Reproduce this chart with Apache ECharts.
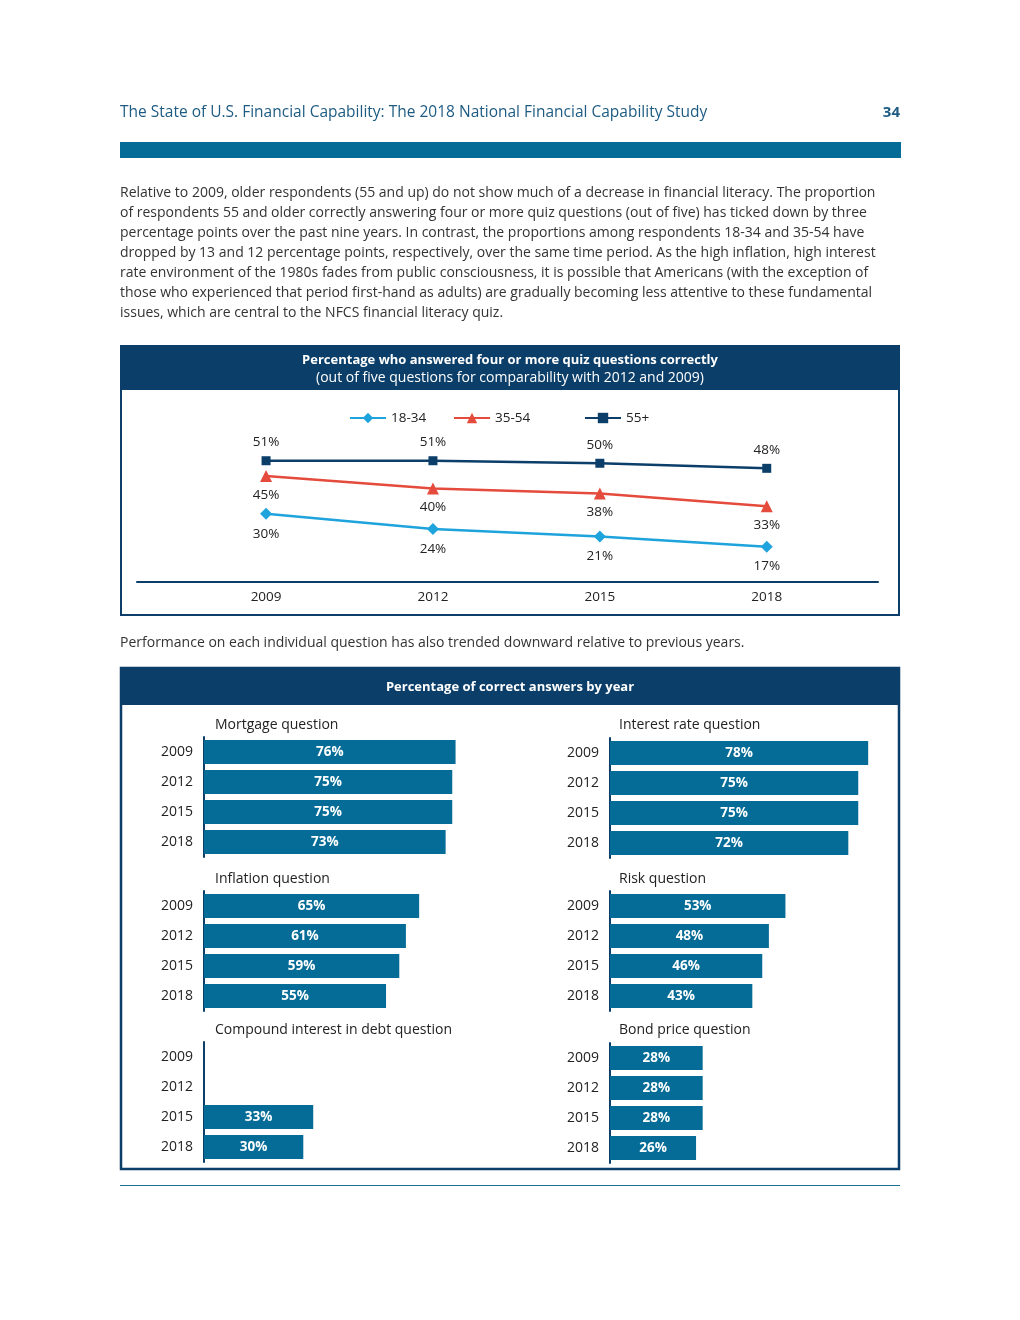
<!DOCTYPE html>
<html>
<head>
<meta charset="utf-8">
<script src="https://cdn.jsdelivr.net/npm/echarts@6/dist/echarts.min.js"></script>
<style>
html,body{margin:0;padding:0;background:#fff;}
#chart{width:1020px;height:1320px;}
</style>
</head>
<body>
<div id="chart"></div>
<script>
// ---------- data ----------
const years = ['2009', '2012', '2015', '2018'];
const yearNums = [2009, 2012, 2015, 2018];
const ages18to34 = [30, 24, 21, 17];
const ages35to54 = [45, 40, 38, 33];
const ages55plus = [51, 51, 50, 48];
const seriesNames = ['18-34', '35-54', '55+'];

const mortgageQ = [76, 75, 75, 73];
const interestRateQ = [78, 75, 75, 72];
const inflationQ = [65, 61, 59, 55];
const riskQ = [53, 48, 46, 43];
const compoundQ = [null, null, 33, 30];
const bondQ = [28, 28, 28, 26];
const panelTitles = ['Mortgage question', 'Interest rate question', 'Inflation question', 'Risk question', 'Compound interest in debt question', 'Bond price question'];

const headerTitle = 'The State of U.S. Financial Capability: The 2018 National Financial Capability Study';
const pageNumber = '34';
const paragraphLines = [
  'Relative to 2009, older respondents (55 and up) do not show much of a decrease in financial literacy. The proportion',
  'of respondents 55 and older correctly answering four or more quiz questions (out of five) has ticked down by three',
  'percentage points over the past nine years. In contrast, the proportions among respondents 18-34 and 35-54 have',
  'dropped by 13 and 12 percentage points, respectively, over the same time period. As the high inflation, high interest',
  'rate environment of the 1980s fades from public consciousness, it is possible that Americans (with the exception of',
  'those who experienced that period first-hand as adults) are gradually becoming less attentive to these fundamental',
  'issues, which are central to the NFCS financial literacy quiz.'
];
const chart1Title = 'Percentage who answered four or more quiz questions correctly';
const chart1Subtitle = '(out of five questions for comparability with 2012 and 2009)';
const middleSentence = 'Performance on each individual question has also trended downward relative to previous years.';
const chart2Title = 'Percentage of correct answers by year';

// ---------- styles ----------
const FONT = '"Open Sans", "Noto Sans", sans-serif';
const NAVY = '#0b3e69';
const TEAL = '#046c96';
const BLUE = '#1fa3dc';
const RED = '#e54b3c';
const TEXT = '#222';

const chart = echarts.init(document.getElementById('chart'), null, {renderer: 'canvas'});

function txt(x, y, text, opts) {
  opts = opts || {};
  return {
    type: 'text', x: x, y: y + 1.5, silent: true,
    style: Object.assign({
      text: text, fill: TEXT,
      font: (opts.weight || 'normal') + ' ' + (opts.size || 13) + 'px ' + FONT,
      align: opts.align || 'left', verticalAlign: 'middle'
    }, opts.style || {})
  };
}

const graphics = [];
graphics.push(txt(120, 111, headerTitle, {size: 15.5, style: {fill: '#1d5b82'}}));
graphics.push(txt(900, 111, pageNumber, {size: 15, weight: 'bold', align: 'right', style: {fill: '#1d5b82'}}));
graphics.push({type: 'rect', shape: {x: 120, y: 142, width: 781, height: 16}, style: {fill: TEAL}, silent: true});
paragraphLines.forEach((l, i) => graphics.push(txt(120, 192 + i * 20, l, {size: 14, style: {fill: '#333'}})));
// box 1
graphics.push({type: 'rect', shape: {x: 121, y: 346, width: 778, height: 269}, style: {fill: 'none', stroke: NAVY, lineWidth: 2}, silent: true});
graphics.push({type: 'rect', shape: {x: 120, y: 345, width: 780, height: 45}, style: {fill: NAVY}, silent: true});
graphics.push(txt(510, 359, chart1Title, {size: 13, weight: 'bold', align: 'center', style: {fill: '#fff'}}));
graphics.push(txt(510, 377, chart1Subtitle, {size: 14, align: 'center', style: {fill: '#fff'}}));
graphics.push(txt(120, 642, middleSentence, {size: 14, style: {fill: '#333'}}));
// box 2
graphics.push({type: 'rect', shape: {x: 121, y: 668, width: 778, height: 501}, style: {fill: 'none', stroke: NAVY, lineWidth: 2.5}, silent: true});
graphics.push({type: 'rect', shape: {x: 120, y: 667, width: 780, height: 38}, style: {fill: NAVY}, silent: true});
graphics.push(txt(510, 686, chart2Title, {size: 13, weight: 'bold', align: 'center', style: {fill: '#fff'}}));
graphics.push({type: 'rect', shape: {x: 120, y: 1185, width: 780, height: 1}, style: {fill: '#1f6f90'}, silent: true});

// bar panel layout
const panels = [
  {data: mortgageQ, left: 204, top: 737, tx: 215, ty: 724, lift: 0},
  {data: interestRateQ, left: 610, top: 738, tx: 619, ty: 724, lift: 0},
  {data: inflationQ, left: 204, top: 891, tx: 215, ty: 878, lift: 8},
  {data: riskQ, left: 610, top: 891, tx: 619, ty: 878, lift: 8},
  {data: compoundQ, left: 204, top: 1042, tx: 215, ty: 1029, lift: 0},
  {data: bondQ, left: 610, top: 1043, tx: 619, ty: 1029, lift: 0}
];
panels.forEach((p, i) => graphics.push(txt(p.tx, p.ty, panelTitles[i], {size: 14})));

const grids = [{left: 137, width: 741, top: 438, height: 144}];
const xAxes = [{
  gridIndex: 0, type: 'value', min: 2006.68, max: 2020,
  axisLine: {show: true, lineStyle: {color: NAVY, width: 2}},
  axisTick: {show: false}, splitLine: {show: false},
  axisLabel: {customValues: yearNums, formatter: v => String(v), color: TEXT, fontSize: 13.5, fontFamily: FONT, margin: 8}
}];
const yAxes = [{gridIndex: 0, type: 'value', min: 3, max: 60, show: false}];

const lineSeries = [
  {name: seriesNames[0], values: ages18to34, color: BLUE, symbol: 'diamond', size: 12, pos: 'bottom', dist: 7},
  {name: seriesNames[1], values: ages35to54, color: RED, symbol: 'triangle', size: 12, pos: 'bottom', dist: 6},
  {name: seriesNames[2], values: ages55plus, color: NAVY, symbol: 'rect', size: 9, pos: 'top', dist: 7}
];
const series = lineSeries.map(s => ({
  type: 'line', name: s.name, xAxisIndex: 0, yAxisIndex: 0,
  data: yearNums.map((y, i) => [y, s.values[i]]),
  symbol: s.symbol, symbolSize: s.size, showAllSymbol: true,
  lineStyle: {color: s.color, width: 2.5}, itemStyle: {color: s.color},
  label: {show: true, position: s.pos, distance: s.dist, formatter: p => p.value[1] + '%', color: TEXT, fontSize: 13.5, fontFamily: FONT},
  labelLayout: {hideOverlap: false},
  animation: false
}));

const legends = [349, 453, 584].map((l, i) => ({
  data: [seriesNames[i]], left: l, top: 411, padding: 0, itemWidth: 36, itemHeight: 13,
  textStyle: {color: TEXT, fontSize: 13.5, fontFamily: FONT}, selectedMode: false
}));

panels.forEach((p, i) => {
  const gi = i + 1;
  grids.push({left: p.left, width: 331, top: p.top, height: 120});
  xAxes.push({gridIndex: gi, type: 'value', min: 0, max: 100, show: false});
  yAxes.push({
    gridIndex: gi, type: 'category', data: years, inverse: true,
    axisLine: {show: true, lineStyle: {color: NAVY, width: 2}},
    axisTick: {show: false},
    axisLabel: {color: TEXT, fontSize: 14, fontFamily: FONT, margin: 11, padding: [0, 0, p.lift, 0]}
  });
  series.push({
    type: 'bar', xAxisIndex: gi, yAxisIndex: gi, data: p.data,
    barWidth: 24, itemStyle: {color: TEAL},
    label: {show: true, position: 'inside', color: '#fff', fontWeight: 'bold', fontSize: 13.5, fontFamily: FONT,
      formatter: q => q.value == null ? '' : q.value + '%'},
    animation: false
  });
});

chart.setOption({
  animation: false,
  backgroundColor: '#fff',
  grid: grids, xAxis: xAxes, yAxis: yAxes,
  legend: legends,
  series: series,
  graphic: graphics
});
</script>
</body>
</html>
